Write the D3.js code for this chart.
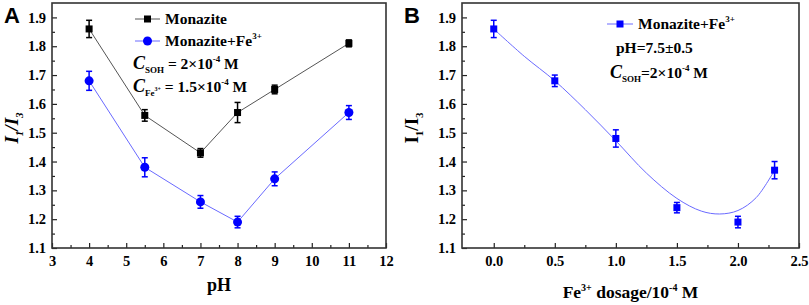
<!DOCTYPE html>
<html>
<head>
<meta charset="utf-8">
<script src="https://cdn.jsdelivr.net/npm/d3@7"></script>
<style>
  body { margin: 0; background: #fff; }
  svg text { font-family: "Liberation Serif", "Times New Roman", serif; font-weight: bold; fill: #000; }
  .tick line { stroke: #222; stroke-width: 1.2; }
</style>
</head>
<body>
<svg id="chart" width="809" height="305"></svg>
<script>
// Panel A data
const phValues = [4, 5.5, 7, 8, 9, 11];
const monazite = [1.86, 1.56, 1.43, 1.57, 1.65, 1.81];
const monaziteErr = [0.03, 0.02, 0.015, 0.035, 0.015, 0.012];
const monaziteFe = [1.68, 1.38, 1.26, 1.19, 1.34, 1.57];
const monaziteFeErr = [0.033, 0.033, 0.022, 0.02, 0.024, 0.024];

// Panel B data
const dosage = [0, 0.5, 1.0, 1.5, 2.0, 2.3];
const dosageRatio = [1.86, 1.68, 1.48, 1.24, 1.19, 1.37];
const dosageErr = [0.03, 0.02, 0.03, 0.018, 0.02, 0.03];
// fitted curve
const fitX = [0, 0.25, 0.5, 0.75, 1.0, 1.25, 1.5, 1.7, 1.85, 2.0, 2.15, 2.3];
const fitY = [1.86, 1.765, 1.68, 1.58, 1.472, 1.36, 1.272, 1.228, 1.218, 1.23, 1.275, 1.37];

const yTicks = [1.1, 1.2, 1.3, 1.4, 1.5, 1.6, 1.7, 1.8, 1.9];
const xTicksA = [3, 4, 5, 6, 7, 8, 9, 10, 11, 12];
const xTicksB = [0.0, 0.5, 1.0, 1.5, 2.0, 2.5];

const BLUE = "#0000ff";
const svg = d3.select("#chart");

function makePanel(box, xDomain, xTicks, xMinor, xFmt) {
    const x = d3.scaleLinear().domain(xDomain).range([box.left, box.right]);
    const y = d3.scaleLinear().domain([1.1, 1.95]).range([box.bottom, box.top]);
    const g = svg.append("g");

    // minor ticks
    g.append("g")
        .attr("transform", `translate(0,${box.bottom})`)
        .call(d3.axisBottom(x).tickValues(xMinor).tickSize(-3).tickFormat(""))
        .call(s => s.select(".domain").remove());
    g.append("g")
        .attr("transform", `translate(${box.left},0)`)
        .call(d3.axisLeft(y).tickValues(d3.range(1.15, 1.95, 0.1)).tickSize(-3).tickFormat(""))
        .call(s => s.select(".domain").remove());

    // major ticks
    g.append("g")
        .attr("transform", `translate(0,${box.bottom})`)
        .call(d3.axisBottom(x).tickValues(xTicks).tickSize(-5).tickPadding(8).tickFormat(xFmt))
        .call(s => s.select(".domain").remove())
        .call(s => s.selectAll("text").style("font-size", "14.5px"));
    g.append("g")
        .attr("transform", `translate(${box.left},0)`)
        .call(d3.axisLeft(y).tickValues(yTicks).tickSize(-5).tickPadding(6).tickFormat(d3.format(".1f")))
        .call(s => s.select(".domain").remove())
        .call(s => s.selectAll("text").style("font-size", "14.5px"));

    // frame
    g.append("rect")
        .attr("x", box.left).attr("y", box.top)
        .attr("width", box.right - box.left).attr("height", box.bottom - box.top)
        .attr("fill", "none").attr("stroke", "#333").attr("stroke-width", 1.6);

    return { x, y, g };
}

function errorBars(g, x, y, xs, ys, errs, color) {
    const cap = 3;
    xs.forEach((xv, i) => {
        const px = x(xv), y1 = y(ys[i] + errs[i]), y2 = y(ys[i] - errs[i]);
        g.append("line").attr("x1", px).attr("x2", px).attr("y1", y1).attr("y2", y2)
            .attr("stroke", color).attr("stroke-width", 1.5);
        [y1, y2].forEach(yy => g.append("line")
            .attr("x1", px - cap).attr("x2", px + cap).attr("y1", yy).attr("y2", yy)
            .attr("stroke", color).attr("stroke-width", 1.5));
    });
}

function squares(g, x, y, xs, ys, color, size) {
    g.selectAll(null).data(xs).enter().append("rect")
        .attr("x", (d, i) => x(d) - size / 2)
        .attr("y", (d, i) => y(ys[i]) - size / 2)
        .attr("width", size).attr("height", size)
        .attr("fill", color);
}

function circles(g, x, y, xs, ys, color, r) {
    g.selectAll(null).data(xs).enter().append("circle")
        .attr("cx", d => x(d)).attr("cy", (d, i) => y(ys[i]))
        .attr("r", r).attr("fill", color);
}

function yTitle(g, cx, cy, italic) {
    const t = g.append("text")
        .attr("transform", `translate(${cx},${cy}) rotate(-90)`)
        .attr("text-anchor", "middle")
        .style("font-size", "19px")
        .style("font-style", italic ? "italic" : "normal");
    t.append("tspan").text("I");
    t.append("tspan").attr("dy", 5).style("font-size", "11px").text("1");
    t.append("tspan").attr("dy", -5).text("/I");
    t.append("tspan").attr("dy", 5).style("font-size", "11px").text("3");
}

// ---------- Panel A ----------
const boxA = { left: 52, right: 386, top: 3, bottom: 248 };
const A = makePanel(boxA, [3, 12], xTicksA, d3.range(3.5, 12, 1), d3.format("d"));

const line = d3.line();
A.g.append("path")
    .attr("d", line(phValues.map((d, i) => [A.x(d), A.y(monazite[i])])))
    .attr("fill", "none").attr("stroke", "#555").attr("stroke-width", 1);
A.g.append("path")
    .attr("d", line(phValues.map((d, i) => [A.x(d), A.y(monaziteFe[i])])))
    .attr("fill", "none").attr("stroke", "#6a6aff").attr("stroke-width", 1);
errorBars(A.g, A.x, A.y, phValues, monazite, monaziteErr, "#000");
errorBars(A.g, A.x, A.y, phValues, monaziteFe, monaziteFeErr, BLUE);
squares(A.g, A.x, A.y, phValues, monazite, "#000", 7);
circles(A.g, A.x, A.y, phValues, monaziteFe, BLUE, 4.5);

// legend A
A.g.append("line").attr("x1", 135).attr("x2", 160).attr("y1", 19).attr("y2", 19)
    .attr("stroke", "#555").attr("stroke-width", 1);
A.g.append("rect").attr("x", 144).attr("y", 15.5).attr("width", 7).attr("height", 7).attr("fill", "#000");
A.g.append("text").attr("x", 165).attr("y", 24).style("font-size", "15.5px").text("Monazite");
A.g.append("line").attr("x1", 135).attr("x2", 160).attr("y1", 41).attr("y2", 41)
    .attr("stroke", "#6a6aff").attr("stroke-width", 1);
A.g.append("circle").attr("cx", 147.5).attr("cy", 41).attr("r", 4.5).attr("fill", BLUE);
const la2 = A.g.append("text").attr("x", 165).attr("y", 46).style("font-size", "15.5px");
la2.append("tspan").text("Monazite+Fe");
la2.append("tspan").attr("dy", -7).style("font-size", "9px").text("3+");

const la3 = A.g.append("text").attr("x", 133).attr("y", 69).style("font-size", "15.5px");
la3.append("tspan").style("font-style", "italic").style("font-size", "18px").text("C");
la3.append("tspan").attr("dy", 4).style("font-size", "9px").text("SOH");
la3.append("tspan").attr("dy", -4).text(" = 2\u00d710");
la3.append("tspan").attr("dy", -7).style("font-size", "9px").text("-4");
la3.append("tspan").attr("dy", 7).text(" M");

const la4 = A.g.append("text").attr("x", 133).attr("y", 92).style("font-size", "15.5px");
la4.append("tspan").style("font-style", "italic").style("font-size", "18px").text("C");
la4.append("tspan").attr("dy", 4).style("font-size", "9px").text("Fe");
la4.append("tspan").attr("dy", -5).style("font-size", "6px").text("3+");
la4.append("tspan").attr("dy", 1).text(" = 1.5\u00d710");
la4.append("tspan").attr("dy", -7).style("font-size", "9px").text("-4");
la4.append("tspan").attr("dy", 7).text(" M");

yTitle(A.g, 18, 128, true);
A.g.append("text").attr("x", (boxA.left + boxA.right) / 2).attr("y", 291)
    .attr("text-anchor", "middle").style("font-size", "18px").text("pH");
A.g.append("text").attr("x", 4).attr("y", 23)
    .style("font-family", "'Liberation Sans', Arial, sans-serif").style("font-size", "22px").text("A");

// ---------- Panel B ----------
const boxB = { left: 462, right: 799, top: 3, bottom: 248 };
const B = makePanel(boxB, [-0.26, 2.5], xTicksB, d3.range(0.25, 2.5, 0.5), d3.format(".1f"));

B.g.append("path")
    .attr("d", d3.line().curve(d3.curveCatmullRom)(fitX.map((d, i) => [B.x(d), B.y(fitY[i])])))
    .attr("fill", "none").attr("stroke", "#6a6aff").attr("stroke-width", 1);
errorBars(B.g, B.x, B.y, dosage, dosageRatio, dosageErr, BLUE);
squares(B.g, B.x, B.y, dosage, dosageRatio, BLUE, 7);

// legend B
B.g.append("line").attr("x1", 607).attr("x2", 633).attr("y1", 24).attr("y2", 24)
    .attr("stroke", "#6a6aff").attr("stroke-width", 1);
B.g.append("rect").attr("x", 616.5).attr("y", 20.5).attr("width", 7).attr("height", 7).attr("fill", BLUE);
const lb1 = B.g.append("text").attr("x", 638).attr("y", 29).style("font-size", "15.5px");
lb1.append("tspan").text("Monazite+Fe");
lb1.append("tspan").attr("dy", -7).style("font-size", "9px").text("3+");
B.g.append("text").attr("x", 616).attr("y", 53).style("font-size", "15.5px").text("pH=7.5\u00b10.5");
const lb3 = B.g.append("text").attr("x", 610).attr("y", 78).style("font-size", "15.5px");
lb3.append("tspan").style("font-style", "italic").style("font-size", "18px").text("C");
lb3.append("tspan").attr("dy", 4).style("font-size", "9px").text("SOH");
lb3.append("tspan").attr("dy", -4).text("=2\u00d710");
lb3.append("tspan").attr("dy", -7).style("font-size", "9px").text("-4");
lb3.append("tspan").attr("dy", 7).text(" M");

yTitle(B.g, 418, 128, false);
const xb = B.g.append("text").attr("x", (boxB.left + boxB.right) / 2).attr("y", 298)
    .attr("text-anchor", "middle").style("font-size", "17.5px");
xb.append("tspan").text("Fe");
xb.append("tspan").attr("dy", -7).style("font-size", "10px").text("3+");
xb.append("tspan").attr("dy", 7).text(" dosage/10");
xb.append("tspan").attr("dy", -7).style("font-size", "10px").text("-4");
xb.append("tspan").attr("dy", 7).text(" M");
B.g.append("text").attr("x", 404).attr("y", 23)
    .style("font-family", "'Liberation Sans', Arial, sans-serif").style("font-size", "22px").text("B");
</script>
</body>
</html>
